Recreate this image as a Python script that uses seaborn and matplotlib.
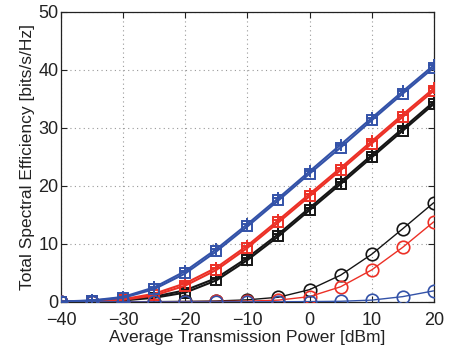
import numpy as np
import pandas as pd
import matplotlib
matplotlib.use("Agg")
import matplotlib.pyplot as plt
import seaborn as sns

power = [-40, -35, -30, -25, -20, -15, -10, -5, 0, 5, 10, 15, 20]

blue_sq = [0.05, 0.2, 0.7, 2.2, 4.9, 8.7, 13.0, 17.5, 22.1, 26.6, 31.3, 35.9, 40.4]
red_sq = [0.03, 0.1, 0.35, 1.1, 2.8, 5.5, 9.3, 13.7, 18.2, 22.7, 27.3, 31.9, 36.4]
black_sq = [0.02, 0.08, 0.25, 0.7, 1.6, 3.7, 7.2, 11.3, 15.8, 20.3, 24.9, 29.5, 34.1]

blue_plus = [0.06, 0.25, 0.85, 2.5, 5.3, 9.1, 13.4, 17.9, 22.5, 27.1, 31.7, 36.3, 40.8]
red_plus = [0.04, 0.13, 0.45, 1.4, 3.2, 5.9, 9.7, 14.1, 18.6, 23.1, 27.7, 32.3, 36.8]
black_plus = [0.03, 0.1, 0.35, 0.9, 2.0, 4.1, 7.6, 11.7, 16.2, 20.7, 25.3, 29.9, 34.5]

black_circ = [0.0, 0.01, 0.02, 0.04, 0.08, 0.15, 0.35, 0.8, 2.1, 4.6, 8.2, 12.6, 17.1]
red_circ = [0.0, 0.0, 0.01, 0.02, 0.04, 0.07, 0.12, 0.3, 0.9, 2.6, 5.5, 9.4, 13.8]
blue_circ = [0.0, 0.0, 0.0, 0.0, 0.0, 0.0, 0.01, 0.02, 0.05, 0.1, 0.3, 0.9, 1.9]

xticks = [-40, -30, -20, -10, 0, 10, 20]
yticks = [0, 10, 20, 30, 40, 50]

BLUE = "#3352A8"
RED = "#EC3026"
BLACK = "#151515"

sns.set_style("ticks")
plt.rcParams["font.family"] = ["Liberation Sans", "DejaVu Sans"]

fig = plt.figure(figsize=(4.49, 3.51), dpi=100)
ax = fig.add_axes([0.136, 0.140, 0.830, 0.826])

def draw(vals, color, marker, lw, ms, mew, z):
    df = pd.DataFrame({"x": power, "y": vals})
    sns.lineplot(data=df, x="x", y="y", ax=ax, color=color, marker=marker,
                 linewidth=lw, markersize=ms, markerfacecolor="none",
                 markeredgecolor=color, markeredgewidth=mew, zorder=z)

draw(black_circ, BLACK, "o", 1.0, 9, 1.2, 3)
draw(red_circ, RED, "o", 1.0, 9, 1.2, 3)
draw(black_sq, BLACK, "s", 1.5, 7, 1.4, 4)
draw(black_plus, BLACK, "+", 1.5, 8, 1.4, 4)
draw(red_sq, RED, "s", 1.5, 7, 1.4, 4)
draw(red_plus, RED, "+", 1.5, 8, 1.4, 4)
draw(blue_sq, BLUE, "s", 1.5, 7, 1.4, 4)
draw(blue_plus, BLUE, "+", 1.5, 8, 1.4, 4)
draw(blue_circ, BLUE, "o", 1.0, 9, 1.2, 5)

ax.set_xlim(-40, 20)
ax.set_ylim(0, 50)
ax.set_xticks(xticks)
ax.set_yticks(yticks)
ax.set_xticklabels([str(t).replace("-", "\u2212") for t in xticks])
ax.set_yticklabels([str(t) for t in yticks])
ax.grid(True, linestyle=(0, (1, 3)), color="#999999", linewidth=0.8)
ax.tick_params(direction="in", length=4, labelsize=13, color="#222222",
               top=True, right=True)
ax.tick_params(axis="x", pad=7)
ax.tick_params(axis="y", pad=2)
for s in ax.spines.values():
    s.set_color("#222222")
    s.set_linewidth(0.9)
ax.set_xlabel("Average Transmission Power [dBm]", fontsize=12.5, labelpad=1, color="#222222")
ax.set_ylabel("Total Spectral Efficiency [bits/s/Hz]", fontsize=12.5, labelpad=2, color="#222222")
for t in ax.get_xticklabels() + ax.get_yticklabels():
    t.set_color("#222222")

fig.savefig("out.png", dpi=100)
